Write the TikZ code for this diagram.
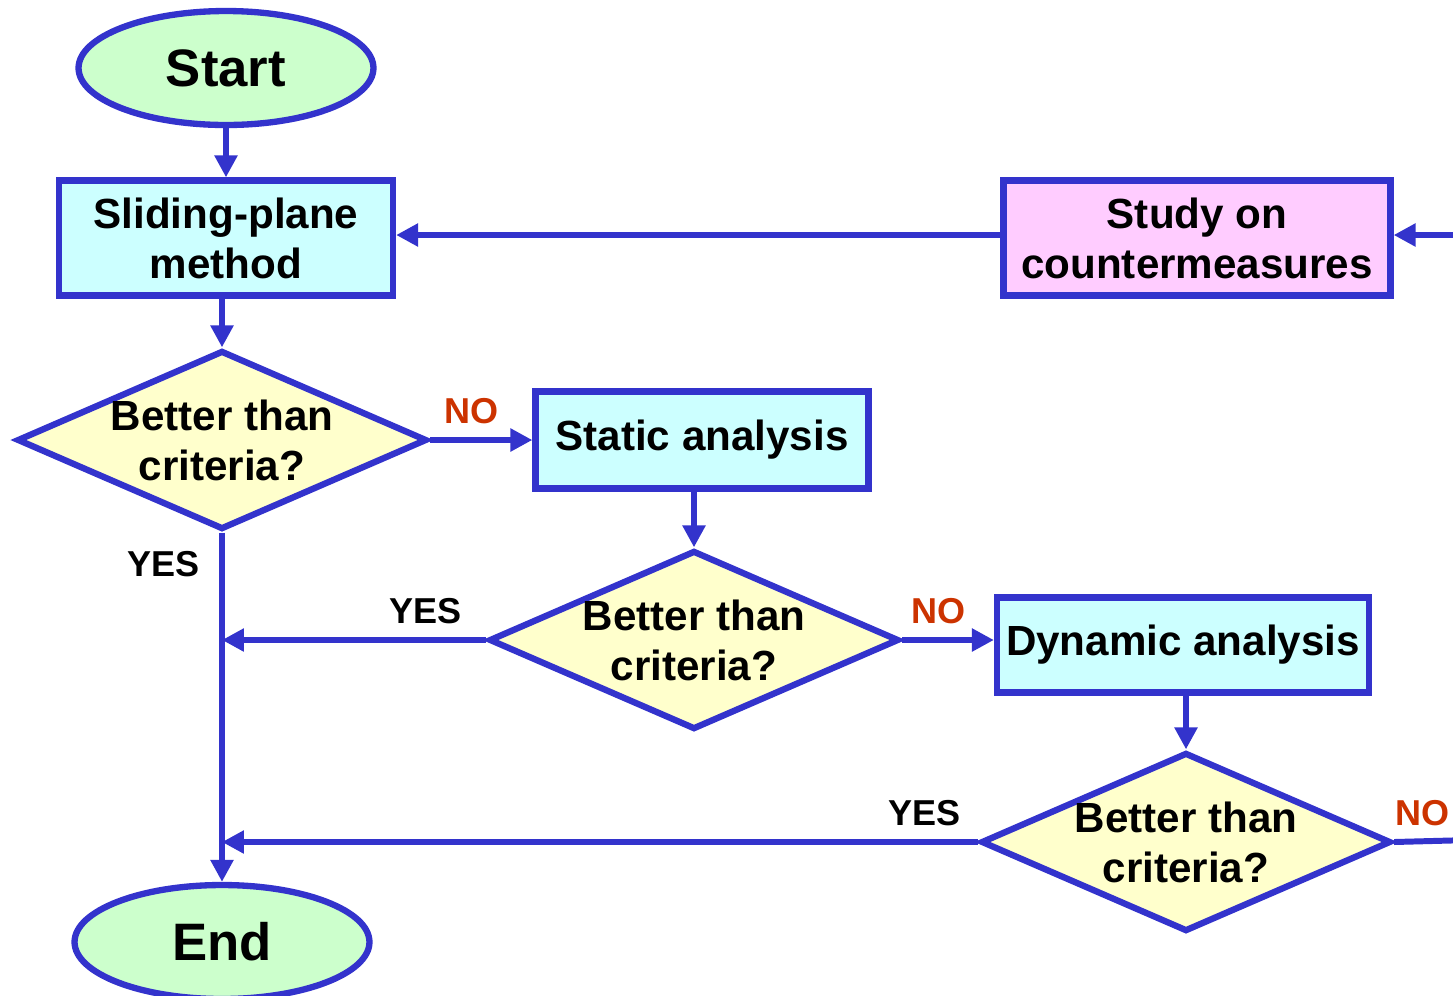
\documentclass[tikz,border=0pt]{standalone}
\usepackage{fontspec}
\setmainfont{Liberation Sans}
\usepackage{xcolor}
\usepackage{tikz}
\usetikzlibrary{arrows.meta,shapes.geometric}

\definecolor{flowblue}{RGB}{51,51,204}
\definecolor{termgreen}{RGB}{204,255,204}
\definecolor{boxcyan}{RGB}{204,255,255}
\definecolor{studypink}{RGB}{255,204,255}
\definecolor{checkyellow}{RGB}{255,255,204}
\definecolor{nored}{RGB}{204,51,0}

\begin{document}
\begin{tikzpicture}[x=0.02cm,y=-0.02cm,
  font=\bfseries\fontsize{24}{28.5}\selectfont,
  terminal/.style={ellipse,draw=flowblue,line width=3.6pt,fill=termgreen,
    minimum width=5.9cm,minimum height=2.28cm,inner sep=0pt,
    font=\bfseries\fontsize{30}{34}\selectfont},
  box/.style={rectangle,draw=flowblue,line width=3.6pt,fill=boxcyan,
    inner sep=0pt,align=center},
  check/.style={diamond,draw=flowblue,line width=3.6pt,fill=checkyellow,
    aspect=2.3,inner sep=0pt,minimum width=8.2cm,minimum height=3.58cm,align=center},
  flow/.style={draw=flowblue,line width=3.4pt,-{Triangle[length=0.44cm,width=0.44cm]}},
  yes/.style={font=\bfseries\fontsize{20.5}{24}\selectfont},
  no/.style={yes,text=nored}]
\clip (0,0) rectangle (1453,995);

% Shapes
\node[terminal] (start) at (226,68) {Start};
\node[box,minimum width=6.68cm,minimum height=2.3cm] (slide) at (226,238) {Sliding-plane\\method};
\node[box,fill=studypink,minimum width=7.74cm,minimum height=2.3cm] (study) at (1197,238) {Study on\\countermeasures};
\node[check] (dia1) at (222,440) {Better than\\criteria?};
\node[box,minimum width=6.66cm,minimum height=1.94cm] (static) at (702,440) {Static analysis};
\node[check] (dia2) at (694,640) {Better than\\criteria?};
\node[box,minimum width=7.44cm,minimum height=1.9cm] (dyn) at (1183,645) {Dynamic analysis};
\node[check] (dia3) at (1186,842) {Better than\\criteria?};
\node[terminal] (end) at (222,942) {End};

\coordinate (inR) at (1470,235);
\coordinate (outR) at (1470,840);

% Connectors
\draw[flow] (start) -- (slide);
\draw[flow] (slide.south -| dia1.north) -- (dia1.north);
\draw[flow] (inR) -- (study.east |- inR);
\draw[flow] (study.west |- inR) -- (slide.east |- inR);
\draw[flow] (dia1.east) -- (static.west) node[pos=0.4,above=4pt,no] {NO};
\draw[flow] (static.south -| dia2.north) -- (dia2.north);
\draw[flow] (dia2.east) -- (dyn.west |- dia2.east) node[pos=0.4,above=4pt,no] {NO};
\draw[flow] (dyn.south -| dia3.north) -- (dia3.north);
\draw[flow] (dia1.south) -- (end.north) node[pos=0.09,left=8pt,yes] {YES};
\draw[flow] (dia2.west) -- (dia2.west -| dia1.south) node[pos=0.23,above=4pt,yes] {YES};
\draw[flow] (dia3.west) -- (dia3.west -| dia1.south) node[pos=0.07,above=4pt,yes] {YES};
\draw[draw=flowblue,line width=3.4pt] (dia3.east) -- (outR) node[pos=0.37,above=4pt,no] {NO};
\end{tikzpicture}
\end{document}
